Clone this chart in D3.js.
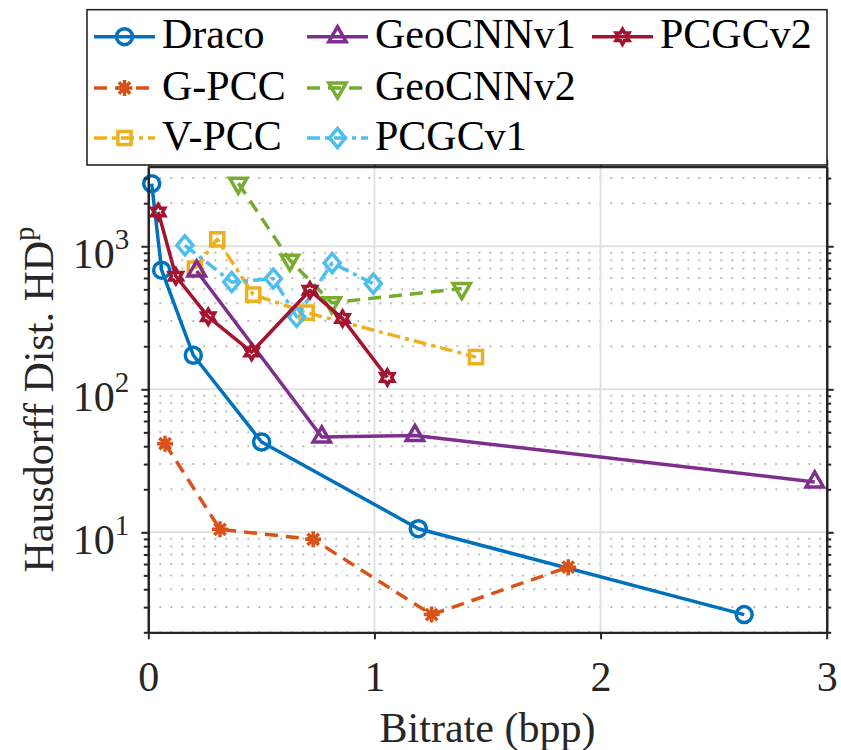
<!DOCTYPE html>
<html>
<head>
<meta charset="utf-8">
<script src="https://cdn.jsdelivr.net/npm/d3@7"></script>
<style>
  body { margin: 0; background: #fff; }
  svg { display: block; }
</style>
</head>
<body>
<script>
// Rate (bits per point) and Hausdorff distance for each codec
const seriesNames = ["Draco", "G-PCC", "V-PCC", "GeoCNNv1", "GeoCNNv2", "PCGCv1", "PCGCv2"];
const dracoRate = [0.015, 0.059, 0.199, 0.501, 1.194, 2.635];
const dracoHD   = [2740, 680, 173, 42.8, 10.6, 2.66];
const gpccRate  = [0.074, 0.317, 0.729, 1.253, 1.857];
const gpccHD    = [41.7, 10.5, 8.93, 2.66, 5.71];
const vpccRate  = [0.206, 0.305, 0.464, 0.700, 1.449];
const vpccHD    = [698, 1119, 459, 344, 168];
const geo1Rate  = [0.214, 0.767, 1.179, 2.947];
const geo1HD    = [672, 46.4, 47.6, 22.5];
const geo2Rate  = [0.398, 0.626, 0.811, 1.386];
const geo2HD    = [2760, 798, 403, 506];
const pcgc1Rate = [0.162, 0.369, 0.553, 0.656, 0.813, 0.995];
const pcgc1HD   = [1016, 562, 594, 321, 764, 548];
const pcgc2Rate = [0.044, 0.122, 0.265, 0.457, 0.715, 0.859, 1.057];
const pcgc2HD   = [1738, 617, 321, 182, 492, 312, 121];

const xTicks = [0, 1, 2, 3];
const yTicks = [10, 100, 1000];
const xDomain = [0, 3];
const yDomain = [2, 3600];

// Styling per series (colour, dash pattern, marker)
const styles = [
  { color: "#0072BD", dash: null,        marker: "circle" },
  { color: "#D95319", dash: "13,8",      marker: "asterisk" },
  { color: "#EDB120", dash: "13,5,4,5",  marker: "square" },
  { color: "#7E2F8E", dash: null,        marker: "triangleUp" },
  { color: "#77AC30", dash: "13,8",      marker: "triangleDown" },
  { color: "#4DBEEE", dash: "13,5,4,5",  marker: "diamond" },
  { color: "#A2142F", dash: null,        marker: "hexagram" }
];
const rates = [dracoRate, gpccRate, vpccRate, geo1Rate, geo2Rate, pcgc1Rate, pcgc2Rate];
const hds   = [dracoHD, gpccHD, vpccHD, geo1HD, geo2HD, pcgc1HD, pcgc2HD];
const series = seriesNames.map((name, i) => ({
  name, ...styles[i],
  points: rates[i].map((r, j) => ({ r, hd: hds[i][j] }))
}));

const W = 841, H = 750;
const plot = { left: 148.3, right: 826.7, top: 166.7, bottom: 632.3 };
const axisColor = "#262626";
const fontFamily = "'Liberation Serif', 'DejaVu Serif', 'Times New Roman', serif";

const svg = d3.select("body").append("svg")
  .attr("width", W).attr("height", H)
  .attr("font-family", fontFamily)
  .style("font-family", fontFamily);

const x = d3.scaleLinear().domain(xDomain).range([plot.left, plot.right]);
const y = d3.scaleLog().domain(yDomain).range([plot.bottom, plot.top]);

// minor log ticks: 2..9 times each decade inside the domain
const minorY = [];
for (let e = 0; e <= 3; e++) {
  for (let m = 2; m <= 9; m++) {
    const v = m * Math.pow(10, e);
    if (v >= yDomain[0] && v <= yDomain[1]) minorY.push(v);
  }
}

// ---- grid ----
const grid = svg.append("g");
grid.selectAll("line.minor").data(minorY).join("line")
  .attr("x1", plot.left).attr("x2", plot.right)
  .attr("y1", d => y(d)).attr("y2", d => y(d))
  .attr("stroke", "#bdbdbd").attr("stroke-width", 2)
  .attr("stroke-dasharray", "2,9");
grid.selectAll("line.majorY").data(yTicks).join("line")
  .attr("x1", plot.left).attr("x2", plot.right)
  .attr("y1", d => y(d)).attr("y2", d => y(d))
  .attr("stroke", "#e1e1e1").attr("stroke-width", 2);
grid.selectAll("line.majorX").data(xTicks.slice(1, -1)).join("line")
  .attr("x1", d => x(d)).attr("x2", d => x(d))
  .attr("y1", plot.top).attr("y2", plot.bottom)
  .attr("stroke", "#e1e1e1").attr("stroke-width", 2);

// ---- marker shapes ----
function markerPath(type) {
  switch (type) {
    case "circle": {
      const r = 8;
      return `M${r},0A${r},${r} 0 1,1 ${-r},0A${r},${r} 0 1,1 ${r},0Z`;
    }
    case "square": {
      const h = 6.6;
      return `M${-h},${-h}H${h}V${h}H${-h}Z`;
    }
    case "diamond": {
      const a = 9.5, b = 8;
      return `M0,${-a}L${b},0L0,${a}L${-b},0Z`;
    }
    case "triangleUp": {
      const R = 10, s = R * Math.sqrt(3) / 2;
      return `M0,${-R}L${s},${R / 2}L${-s},${R / 2}Z`;
    }
    case "triangleDown": {
      const R = 10, s = R * Math.sqrt(3) / 2;
      return `M0,${R}L${s},${-R / 2}L${-s},${-R / 2}Z`;
    }
    case "asterisk": {
      const r = 8, d = r * Math.SQRT1_2;
      return `M${-r},0H${r}M0,${-r}V${r}M${-d},${-d}L${d},${d}M${-d},${d}L${d},${-d}`;
    }
    case "hexagram": {
      const R = 7.5, ri = R / Math.sqrt(3);
      const pts = d3.range(12).map(k => {
        const a = -Math.PI / 2 + k * Math.PI / 6;
        const rr = k % 2 === 0 ? R : ri;
        return [rr * Math.cos(a), rr * Math.sin(a)];
      });
      return "M" + pts.map(p => p.join(",")).join("L") + "Z";
    }
  }
}

// ---- series ----
const line = d3.line().x(d => x(d.r)).y(d => y(d.hd));
const layer = svg.append("g");
series.forEach(s => {
  const g = layer.append("g");
  g.append("path")
    .datum(s.points)
    .attr("d", line)
    .attr("fill", "none")
    .attr("stroke", s.color)
    .attr("stroke-width", 3.5)
    .attr("stroke-linejoin", "round")
    .attr("stroke-dasharray", s.dash);
  g.selectAll("path.mk").data(s.points).join("path")
    .attr("class", "mk")
    .attr("transform", d => `translate(${x(d.r)},${y(d.hd)})`)
    .attr("d", markerPath(s.marker))
    .attr("fill", "none")
    .attr("stroke", s.color)
    .attr("stroke-width", 3.5)
    .attr("stroke-linejoin", "miter");
});

// ---- axes ----
function styleAxis(g) {
  g.attr("font-family", null);
  g.select(".domain").attr("stroke", axisColor).attr("stroke-width", 2.2);
  g.selectAll(".tick line").attr("stroke", axisColor).attr("stroke-width", 2);
}

const gBottom = svg.append("g").attr("transform", `translate(0,${plot.bottom})`)
  .call(d3.axisBottom(x).tickValues(xTicks).tickFormat(d3.format("d")).tickSizeInner(7).tickSizeOuter(0));
styleAxis(gBottom);
gBottom.selectAll(".tick text")
  .attr("y", 59).attr("dy", 0)
  .attr("font-size", 42).attr("fill", axisColor);

const gTop = svg.append("g").attr("transform", `translate(0,${plot.top})`)
  .call(d3.axisTop(x).tickValues(xTicks).tickFormat("").tickSizeInner(7).tickSizeOuter(0));
styleAxis(gTop);

function yAxisPair(axisGen, offset, labelled) {
  const gMinor = svg.append("g").attr("transform", `translate(${offset},0)`)
    .call(axisGen(y).tickValues(minorY).tickFormat("").tickSizeInner(4.5).tickSizeOuter(0));
  styleAxis(gMinor);
  const gMajor = svg.append("g").attr("transform", `translate(${offset},0)`)
    .call(axisGen(y).tickValues(yTicks).tickFormat(labelled ? d => d : "").tickSizeInner(7).tickSizeOuter(0).tickPadding(12));
  styleAxis(gMajor);
  return gMajor;
}
const gLeft = yAxisPair(d3.axisLeft, plot.left, true);
yAxisPair(d3.axisRight, plot.right, false);

// power-of-ten labels: "10" with a raised exponent
gLeft.selectAll(".tick text").each(function (d) {
  const t = d3.select(this);
  t.text(null).attr("dy", 21).attr("font-size", 42).attr("fill", axisColor);
  t.append("tspan").text("10");
  t.append("tspan").text(Math.round(Math.log10(d))).attr("font-size", 29).attr("dy", -19);
});

// ---- axis titles ----
svg.append("text")
  .attr("x", (plot.left + plot.right) / 2).attr("y", 742)
  .attr("text-anchor", "middle").attr("font-size", 42).attr("fill", axisColor)
  .text("Bitrate (bpp)");

const yTitle = svg.append("text")
  .attr("transform", `translate(53,${(plot.top + plot.bottom) / 2}) rotate(-90)`)
  .attr("text-anchor", "middle").attr("font-size", 42).attr("fill", axisColor);
yTitle.append("tspan").text("Hausdorff Dist. HD");
yTitle.append("tspan").text("p").attr("font-size", 29).attr("dy", -19);

// ---- legend ----
const legend = { x: 87, y: 9.7, w: 740, h: 155.3 };
const lg = svg.append("g");
lg.append("rect")
  .attr("x", legend.x).attr("y", legend.y).attr("width", legend.w).attr("height", legend.h)
  .attr("fill", "#fff").attr("stroke", axisColor).attr("stroke-width", 1.6);

const colX = [94, 307, 592];
const rowY = [36.7, 88, 138];
series.forEach((s, i) => {
  const cx = colX[Math.floor(i / 3)], cy = rowY[i % 3];
  const item = lg.append("g").attr("transform", `translate(${cx},${cy})`);
  item.append("line")
    .attr("x1", 0).attr("x2", 61).attr("y1", 0).attr("y2", 0)
    .attr("stroke", s.color).attr("stroke-width", 3.5)
    .attr("stroke-dasharray", s.dash);
  item.append("path")
    .attr("transform", "translate(30.5,0)")
    .attr("d", markerPath(s.marker))
    .attr("fill", "none").attr("stroke", s.color).attr("stroke-width", 3.5);
  item.append("text")
    .attr("x", 68).attr("y", 11.5)
    .attr("font-size", 42).attr("fill", "#000")
    .text(s.name);
});
</script>
</body>
</html>
